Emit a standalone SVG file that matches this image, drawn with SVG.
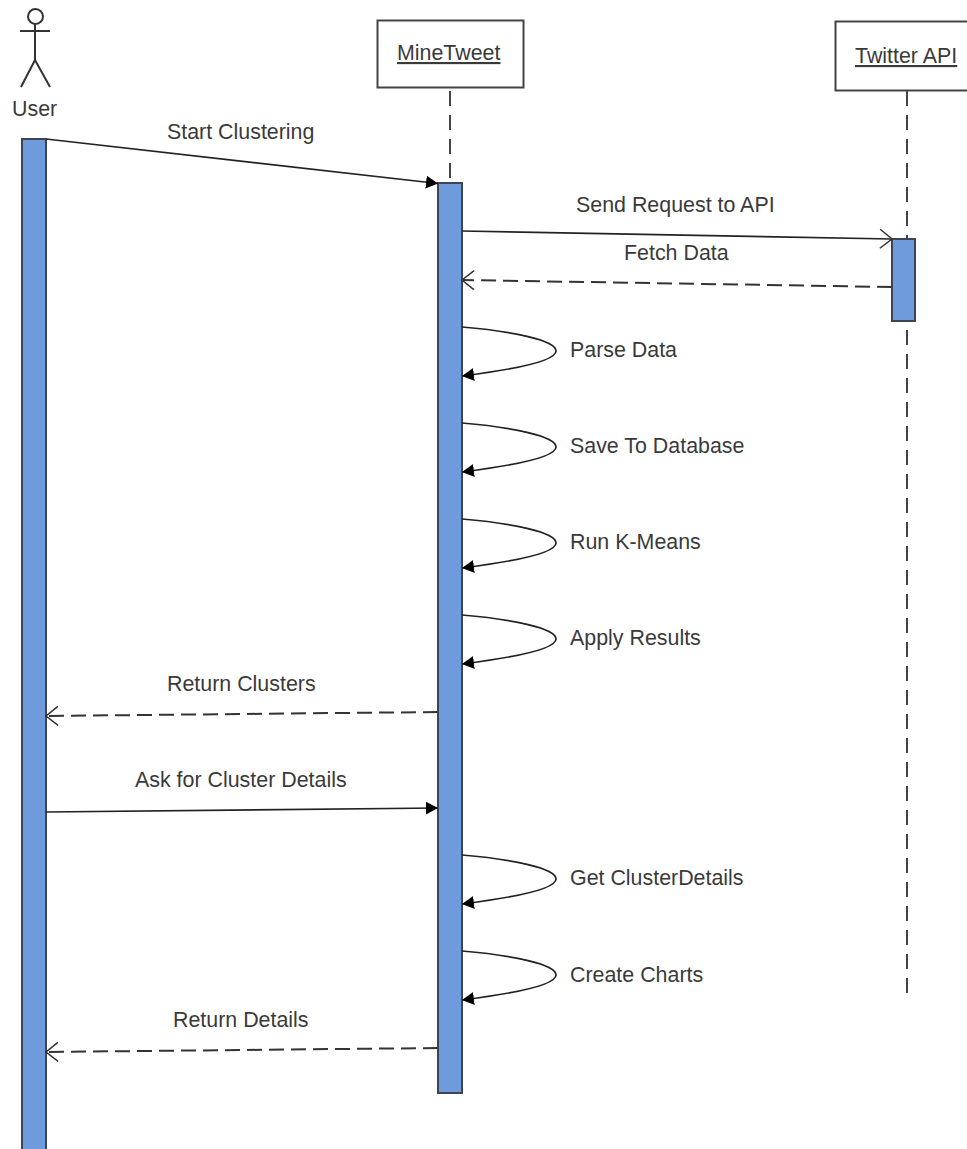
<svg xmlns="http://www.w3.org/2000/svg" width="967" height="1149" viewBox="0 0 967 1149">
<defs>
<marker id="solid" markerUnits="userSpaceOnUse" markerWidth="14" markerHeight="14" refX="12" refY="6.5" orient="auto"><path d="M0 0L12 6.5L0 13Z" fill="#000"/></marker>
<marker id="open" markerUnits="userSpaceOnUse" markerWidth="16" markerHeight="22" refX="14" refY="11" orient="auto"><path d="M2 1.5L14 11L2 20.5" fill="none" stroke="#333" stroke-width="1.5"/></marker>
</defs>
<style>
text{font-family:"Liberation Sans",Arial,sans-serif;font-size:21.4px;fill:#3a3a3a}
.bar{fill:#6f9bdc;stroke:#3c4652;stroke-width:2}
.box{fill:#fff;stroke:#444;stroke-width:2}
.life{fill:none;stroke:#444;stroke-width:2;stroke-dasharray:15 9}
.msg{fill:none;stroke:#222;stroke-width:1.7}
.dash{fill:none;stroke:#333;stroke-width:2;stroke-dasharray:15 7}
.fig{fill:none;stroke:#333;stroke-width:2}
</style>
<g id="lifelines">
<path class="life" d="M450 91V182"/>
<path class="life" d="M907 91V238"/>
<path class="life" d="M907 330V993"/>
</g>
<g id="user">
<circle class="fig" cx="35.500" cy="16.500" r="7.500"/>
<path class="fig" d="M20 31H50M35 24V60M35 60L21 87M35 60L50 87"/>
<text x="12" y="116">User</text>
<path class="bar" d="M22 139H46V1150H22Z"/>
</g>
<g id="minetweet">
<rect class="box" x="377.500" y="20.500" width="146" height="67"/>
<text x="397" y="60" text-decoration="underline">MineTweet</text>
<rect class="bar" x="438" y="183" width="24" height="910"/>
</g>
<g id="twitter-api">
<rect class="box" x="835.500" y="21.500" width="146" height="69"/>
<text x="855" y="63" text-decoration="underline">Twitter API</text>
<rect class="bar" x="892" y="239" width="23" height="82"/>
</g>
<g id="connectors">
<path class="msg" marker-end="url(#solid)" d="M46 139L438 183.500"/>
<path class="msg" marker-end="url(#open)" d="M462 231L892 239"/>
<path class="dash" marker-end="url(#open)" d="M892 287L462 280"/>
<path class="msg" marker-end="url(#solid)" d="M462 327C510 331 556 340 556 351C556 362 510 370 462 376"/>
<path class="msg" marker-end="url(#solid)" d="M462 423C510 427 556 436 556 447C556 458 510 466 462 472"/>
<path class="msg" marker-end="url(#solid)" d="M462 519C510 523 556 532 556 543C556 554 510 562 462 568"/>
<path class="msg" marker-end="url(#solid)" d="M462 615C510 619 556 628 556 639C556 650 510 658 462 664"/>
<path class="dash" marker-end="url(#open)" d="M438 712L46 716"/>
<path class="msg" marker-end="url(#solid)" d="M46 812L438 808"/>
<path class="msg" marker-end="url(#solid)" d="M462 855C510 859 556 868 556 879C556 890 510 898 462 904"/>
<path class="msg" marker-end="url(#solid)" d="M462 951C510 955 556 964 556 975C556 986 510 994 462 1000"/>
<path class="dash" marker-end="url(#open)" d="M438 1048L46 1052"/>
</g>
<g id="labels">
<text x="167" y="139">Start Clustering</text>
<text x="576" y="212">Send Request to API</text>
<text x="624" y="260">Fetch Data</text>
<text x="570" y="357">Parse Data</text>
<text x="570" y="453">Save To Database</text>
<text x="570" y="549">Run K-Means</text>
<text x="570" y="645">Apply Results</text>
<text x="167" y="691">Return Clusters</text>
<text x="135" y="787">Ask for Cluster Details</text>
<text x="570" y="885">Get ClusterDetails</text>
<text x="570" y="982">Create Charts</text>
<text x="173" y="1027">Return Details</text>
</g>
</svg>
